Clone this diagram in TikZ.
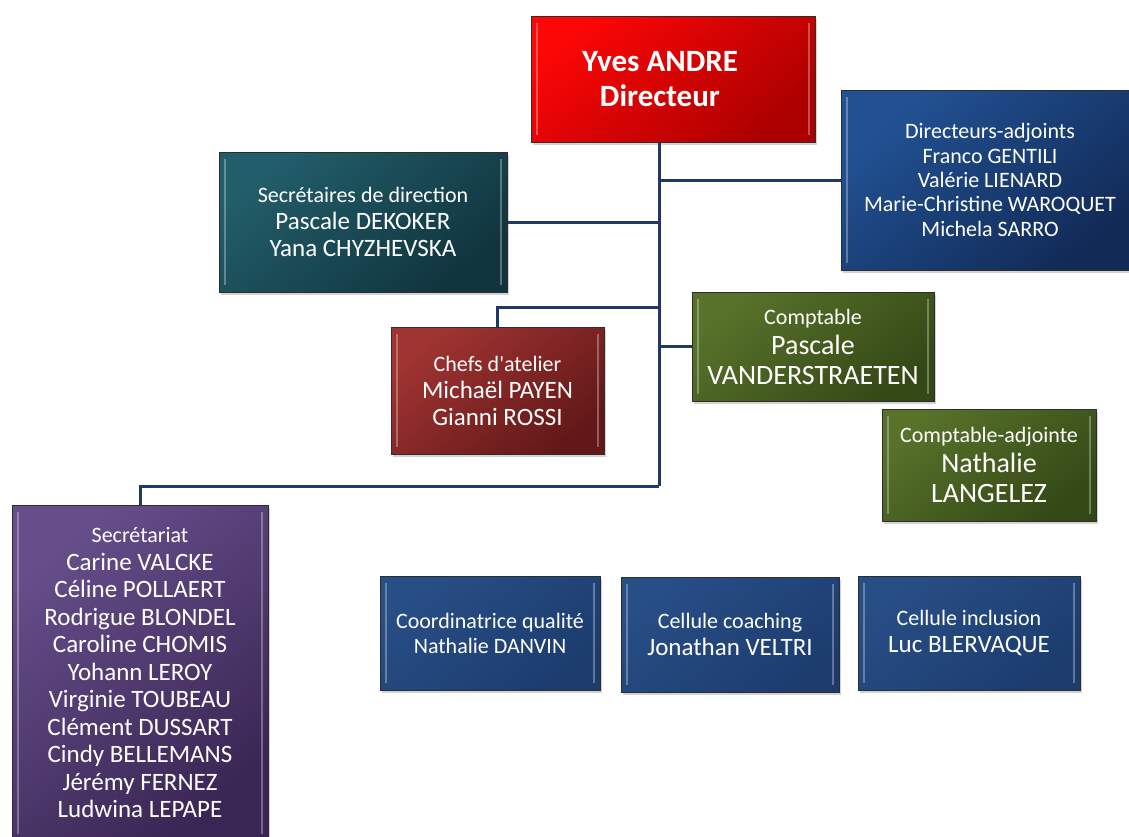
\documentclass[tikz,border=0pt]{standalone}
\usepackage{fontspec}
\setmainfont{Carlito}[Ligatures=TeXOff]
\usetikzlibrary{shadows}
\definecolor{conn}{RGB}{31,56,100}
\definecolor{redA}{RGB}{252,6,6}\definecolor{redB}{RGB}{172,0,0}
\definecolor{tealA}{RGB}{34,94,106}\definecolor{tealB}{RGB}{16,52,62}
\definecolor{blueA}{RGB}{34,82,148}\definecolor{blueB}{RGB}{17,42,86}
\definecolor{chefA}{RGB}{160,52,50}\definecolor{chefB}{RGB}{98,24,24}
\definecolor{grnA}{RGB}{88,114,42}\definecolor{grnB}{RGB}{52,72,22}
\definecolor{purA}{RGB}{102,78,138}\definecolor{purB}{RGB}{58,38,84}
\definecolor{cellA}{RGB}{40,78,134}\definecolor{cellB}{RGB}{28,60,110}
\definecolor{edgegray}{RGB}{45,45,45}
\newcommand\tit[1]{{\fontsize{22}{26}\selectfont #1}}
\tikzset{
  x=1pt,y=-1pt,
  orgbox/.style n args={4}{draw=edgegray,line width=1pt,
    top color=#3,bottom color=#4,shading angle=40,
    minimum width=#1,minimum height=#2,inner sep=0pt,align=center,text=white,
    font=\fontsize{25}{27}\selectfont,
    drop shadow={shadow xshift=2pt,shadow yshift=-3pt,opacity=0.35},
    path picture={
      \draw[white,opacity=0.3,line width=2pt]
        ([xshift=6pt,yshift=-7pt]path picture bounding box.north west) --
        ([xshift=6pt,yshift=7pt]path picture bounding box.south west);
      \draw[white,opacity=0.3,line width=2pt]
        ([xshift=-6pt,yshift=-7pt]path picture bounding box.north east) --
        ([xshift=-6pt,yshift=7pt]path picture bounding box.south east);}},
  boxlabel/.style={align=center,text=white,inner sep=0pt},
  link/.style={draw=conn,line width=3pt}
}
\begin{document}
\begin{tikzpicture}
\useasboundingbox (0,0) rectangle (1129,836);
\coordinate (tk) at (659,486);
\coordinate (c1) at (659,307);
% boxes
\node[orgbox={284pt}{126pt}{redA}{redB}] (dir) at (673,79) {};
\node[boxlabel,font=\bfseries\fontsize{31}{35}\selectfont] (dirlbl) at (660,79) {Yves ANDRE\\Directeur};
\node[orgbox={298pt}{180pt}{blueA}{blueB},font=\fontsize{22}{24.3}\selectfont] (adj) at (990,180) {Directeurs-adjoints\\Franco GENTILI\\Valérie LIENARD\\Marie-Christine WAROQUET\\Michela SARRO};
\node[orgbox={288pt}{140pt}{tealA}{tealB}] (sec) at (363,222) {\tit{Secrétaires de direction}\\Pascale DEKOKER\\Yana CHYZHEVSKA};
\node[orgbox={213pt}{127pt}{chefA}{chefB}] (chef) at (497.5,390.5) {\tit{Chefs d'atelier}\\Michaël PAYEN\\Gianni ROSSI};
\node[orgbox={242pt}{109pt}{grnA}{grnB},font=\fontsize{28}{30}\selectfont] (compt) at (813,346.5) {\tit{Comptable}\\Pascale\\VANDERSTRAETEN};
\node[orgbox={214pt}{112pt}{grnA}{grnB},font=\fontsize{28}{30}\selectfont] (cadj) at (989,465) {\tit{Comptable-adjointe}\\Nathalie\\LANGELEZ};
\node[orgbox={256pt}{336pt}{purA}{purB},font=\fontsize{25}{27.5}\selectfont] (secr) at (140,673) {\tit{Secrétariat}\\Carine VALCKE\\Céline POLLAERT\\Rodrigue BLONDEL\\Caroline CHOMIS\\Yohann LEROY\\Virginie TOUBEAU\\Clément DUSSART\\Cindy BELLEMANS\\Jérémy FERNEZ\\Ludwina LEPAPE};
\node[orgbox={220pt}{114pt}{cellA}{cellB},font=\fontsize{22}{25}\selectfont] (qual) at (490,633) {Coordinatrice qualité\\Nathalie DANVIN};
\node[orgbox={218pt}{115pt}{cellA}{cellB}] (coach) at (730,634.5) {\tit{Cellule coaching}\\Jonathan VELTRI};
\node[orgbox={222pt}{114pt}{cellA}{cellB}] (incl) at (969,633) {\tit{Cellule inclusion}\\Luc BLERVAQUE};
% connectors
\draw[link] (tk |- dir.south) -- (tk);
\draw[link] (tk |- adj.west) -- (adj.west);
\draw[link] (sec.east) -- (tk |- sec.east);
\draw[link] (c1) -| (chef.north);
\draw[link] (tk |- compt.west) -- (compt.west);
\draw[link] (tk) -| (secr.north);
\end{tikzpicture}
\end{document}
